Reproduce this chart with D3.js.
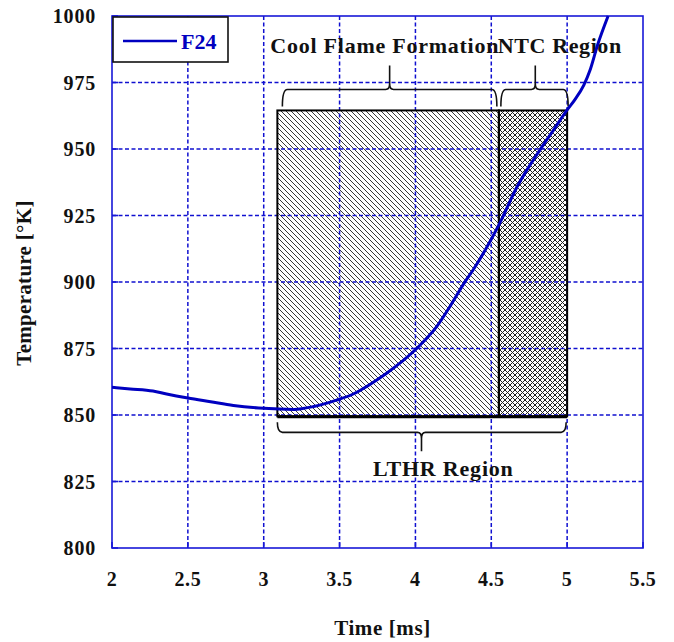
<!DOCTYPE html>
<html>
<head>
<meta charset="utf-8">
<script src="https://cdn.jsdelivr.net/npm/d3@7"></script>
<style>
  html, body { margin: 0; padding: 0; background: #fff; }
  svg { display: block; font-family: "Liberation Serif", "Times New Roman", serif; font-weight: bold; }
</style>
</head>
<body>
<svg id="chart" width="674" height="642"></svg>
<script>
// Temperature history of F24 (time in ms, temperature in K)
const timeMs = [2.00, 2.12, 2.27, 2.36, 2.50, 2.65, 2.80, 3.00, 3.20, 3.33, 3.48, 3.59, 3.70, 3.81, 3.92, 4.01, 4.14, 4.23, 4.32, 4.38, 4.46, 4.55, 4.67, 4.82, 4.91, 5.00, 5.05, 5.11, 5.15, 5.20, 5.27];
const tempK  = [860.4, 859.8, 859.0, 857.9, 856.4, 855.0, 853.6, 852.5, 852.1, 853.2, 855.6, 857.9, 861.5, 865.7, 870.5, 875.1, 883.2, 891.0, 899.5, 904.5, 912.0, 921.5, 935.8, 949.6, 957.1, 964.7, 968.5, 974.0, 979.5, 989.0, 1000.0];

// Axis ticks
const xTicks = [2, 2.5, 3, 3.5, 4, 4.5, 5, 5.5];
const yTicks = [800, 825, 850, 875, 900, 925, 950, 975, 1000];

// Shaded combustion regions: [start, end] in ms, and the temperature band they cover
const regionNames = ["Cool Flame Formation", "NTC Region"];
const regionStart = [3.09, 4.55];
const regionEnd   = [4.55, 5.00];
const regionTemp  = [849.5, 964.5];
const lthrName = "LTHR Region";
const lthrSpan = [3.09, 5.00];

const svg = d3.select("#chart");
const plotL = 112, plotR = 643, plotT = 16, plotB = 548;

const x = d3.scaleLinear().domain([2, 5.5]).range([plotL, plotR]);
const y = d3.scaleLinear().domain([800, 1000]).range([plotB, plotT]);

const curveBlue = "#0000c0";
const gridBlue = "#1010d0";

// Hatch patterns (aliased 1px diagonals)
const defs = svg.append("defs");
const dw = 5;
const diag = defs.append("pattern")
  .attr("id", "diag").attr("patternUnits", "userSpaceOnUse")
  .attr("width", dw).attr("height", dw);
diag.append("path")
  .attr("d", `M0,0 L${dw},${dw} M${-dw},0 L${dw},${2 * dw} M0,${-dw} L${2 * dw},${dw}`)
  .attr("stroke", "#383838").attr("stroke-width", 1).attr("shape-rendering", "crispEdges");

const cw = 5;
const cross = defs.append("pattern")
  .attr("id", "cross").attr("patternUnits", "userSpaceOnUse")
  .attr("width", cw).attr("height", cw);
cross.append("path")
  .attr("d", `M0,0 L${cw},${cw} M${-cw},0 L${cw},${2 * cw} M0,${-cw} L${2 * cw},${cw}` +
             ` M0,${cw} L${cw},0 M${-cw},${cw} L${cw},${-cw} M0,${2 * cw} L${2 * cw},0`)
  .attr("stroke", "#202020").attr("stroke-width", 1).attr("shape-rendering", "crispEdges");

// Regions
const patterns = ["url(#diag)", "url(#cross)"];
regionNames.forEach((name, i) => {
  svg.append("rect")
    .attr("x", x(regionStart[i])).attr("y", y(regionTemp[1]))
    .attr("width", x(regionEnd[i]) - x(regionStart[i]))
    .attr("height", y(regionTemp[0]) - y(regionTemp[1]))
    .attr("fill", patterns[i]);
});

// Grid lines
const grid = svg.append("g").attr("stroke", gridBlue).attr("stroke-width", 1.5)
  .attr("stroke-dasharray", "4,2.5");
xTicks.slice(1, -1).forEach(t => {
  grid.append("line").attr("x1", x(t)).attr("x2", x(t)).attr("y1", plotT).attr("y2", plotB);
});
yTicks.slice(1, -1).forEach(t => {
  grid.append("line").attr("x1", plotL).attr("x2", plotR).attr("y1", y(t)).attr("y2", y(t));
});

// Region outlines
regionNames.forEach((name, i) => {
  svg.append("rect")
    .attr("x", x(regionStart[i])).attr("y", y(regionTemp[1]))
    .attr("width", x(regionEnd[i]) - x(regionStart[i]))
    .attr("height", y(regionTemp[0]) - y(regionTemp[1]))
    .attr("fill", "none").attr("stroke", "#000").attr("stroke-width", 2);
});
svg.append("line")
  .attr("x1", x(regionStart[0])).attr("x2", x(regionEnd[1]))
  .attr("y1", y(regionTemp[0]) + 0.5).attr("y2", y(regionTemp[0]) + 0.5)
  .attr("stroke", "#000").attr("stroke-width", 3);

// Plot frame and inner ticks
const axisG = svg.append("g").attr("stroke", "#1818d8").attr("stroke-width", 1.6).attr("fill", "none");
axisG.append("rect").attr("x", plotL).attr("y", plotT).attr("width", plotR - plotL).attr("height", plotB - plotT);
xTicks.forEach(t => axisG.append("line").attr("x1", x(t)).attr("x2", x(t)).attr("y1", plotB).attr("y2", plotB - 6));
yTicks.forEach(t => axisG.append("line").attr("x1", plotL).attr("x2", plotL + 6).attr("y1", y(t)).attr("y2", y(t)));

// Tick labels
svg.append("g").selectAll("text").data(xTicks).join("text")
  .attr("x", d => x(d)).attr("y", 586)
  .attr("text-anchor", "middle").attr("font-size", 20).attr("letter-spacing", 0.6).attr("fill", "#111")
  .text(d => d);
svg.append("g").selectAll("text").data(yTicks).join("text")
  .attr("x", 96).attr("y", d => y(d) + 7)
  .attr("text-anchor", "end").attr("font-size", 20).attr("letter-spacing", 0.8).attr("fill", "#111")
  .text(d => d);

// Axis titles
svg.append("text").attr("x", (plotL + plotR) / 2 + 5).attr("y", 635)
  .attr("text-anchor", "middle").attr("font-size", 21).attr("letter-spacing", 0.6).attr("fill", "#111")
  .text("Time [ms]");
svg.append("text")
  .attr("transform", `translate(31,${(plotT + plotB) / 2 + 1}) rotate(-90)`)
  .attr("text-anchor", "middle").attr("font-size", 21).attr("letter-spacing", 0.3).attr("fill", "#111")
  .text("Temperature [°K]");

// Curly braces
function brace(x0, x1, xm, yLine, yEnd, yTip) {
  const s = Math.sign(yEnd - yLine);
  const r = 5;
  return `M${x0},${yEnd} Q${x0},${yLine} ${x0 + r},${yLine} L${xm - 4},${yLine}` +
         ` Q${xm},${yLine} ${xm},${yLine - s * 6} L${xm},${yTip}` +
         ` M${xm},${yLine - s * 6} Q${xm},${yLine} ${xm + 4},${yLine}` +
         ` L${x1 - r},${yLine} Q${x1},${yLine} ${x1},${yEnd}`;
}
const braceG = svg.append("g").attr("fill", "none").attr("stroke", "#111").attr("stroke-width", 1.6);
const yTop = y(regionTemp[1]);
const yBot = y(regionTemp[0]);
const topMid = [3.83, 4.79];
braceG.append("path").attr("d", brace(x(regionStart[0]) + 5, x(regionEnd[0]) - 2, x(topMid[0]), yTop - 21, yTop - 4, yTop - 45));
braceG.append("path").attr("d", brace(x(regionStart[1]) + 2, x(regionEnd[1]) + 1, x(topMid[1]), yTop - 21, yTop - 4, yTop - 45));
braceG.append("path").attr("d", brace(x(lthrSpan[0]), x(lthrSpan[1]) - 1, x(4.04), yBot + 16, yBot + 6, yBot + 35));

// Region labels
svg.append("text").attr("x", x(regionStart[0]) - 7).attr("y", 53)
  .attr("font-size", 22).attr("letter-spacing", 0.75).attr("fill", "#111").text(regionNames[0]);
svg.append("text").attr("x", x(regionStart[1]) - 1).attr("y", 53)
  .attr("font-size", 22).attr("letter-spacing", 0.6).attr("fill", "#111").text(regionNames[1]);
svg.append("text").attr("x", 373).attr("y", 476)
  .attr("font-size", 22).attr("letter-spacing", 0.8).attr("fill", "#111").text(lthrName);

// Temperature curve
const plotClip = defs.append("clipPath").attr("id", "plotClip");
plotClip.append("rect").attr("x", plotL).attr("y", plotT - 1).attr("width", plotR - plotL).attr("height", plotB - plotT + 1);
const line = d3.line().x(d => x(d[0])).y(d => y(d[1])).curve(d3.curveMonotoneX);
svg.append("path")
  .datum(d3.zip(timeMs, tempK))
  .attr("clip-path", "url(#plotClip)")
  .attr("fill", "none").attr("stroke", curveBlue).attr("stroke-width", 3)
  .attr("d", line);

// Legend
const lg = svg.append("g");
lg.append("rect").attr("x", 113).attr("y", 17).attr("width", 115).attr("height", 45)
  .attr("fill", "#fff").attr("stroke", "#111").attr("stroke-width", 1.6);
lg.append("line").attr("x1", 123).attr("x2", 177).attr("y1", 41).attr("y2", 41)
  .attr("stroke", curveBlue).attr("stroke-width", 2.5);
lg.append("text").attr("x", 181).attr("y", 49).attr("font-size", 22).attr("fill", curveBlue).text("F24");
</script>
</body>
</html>
